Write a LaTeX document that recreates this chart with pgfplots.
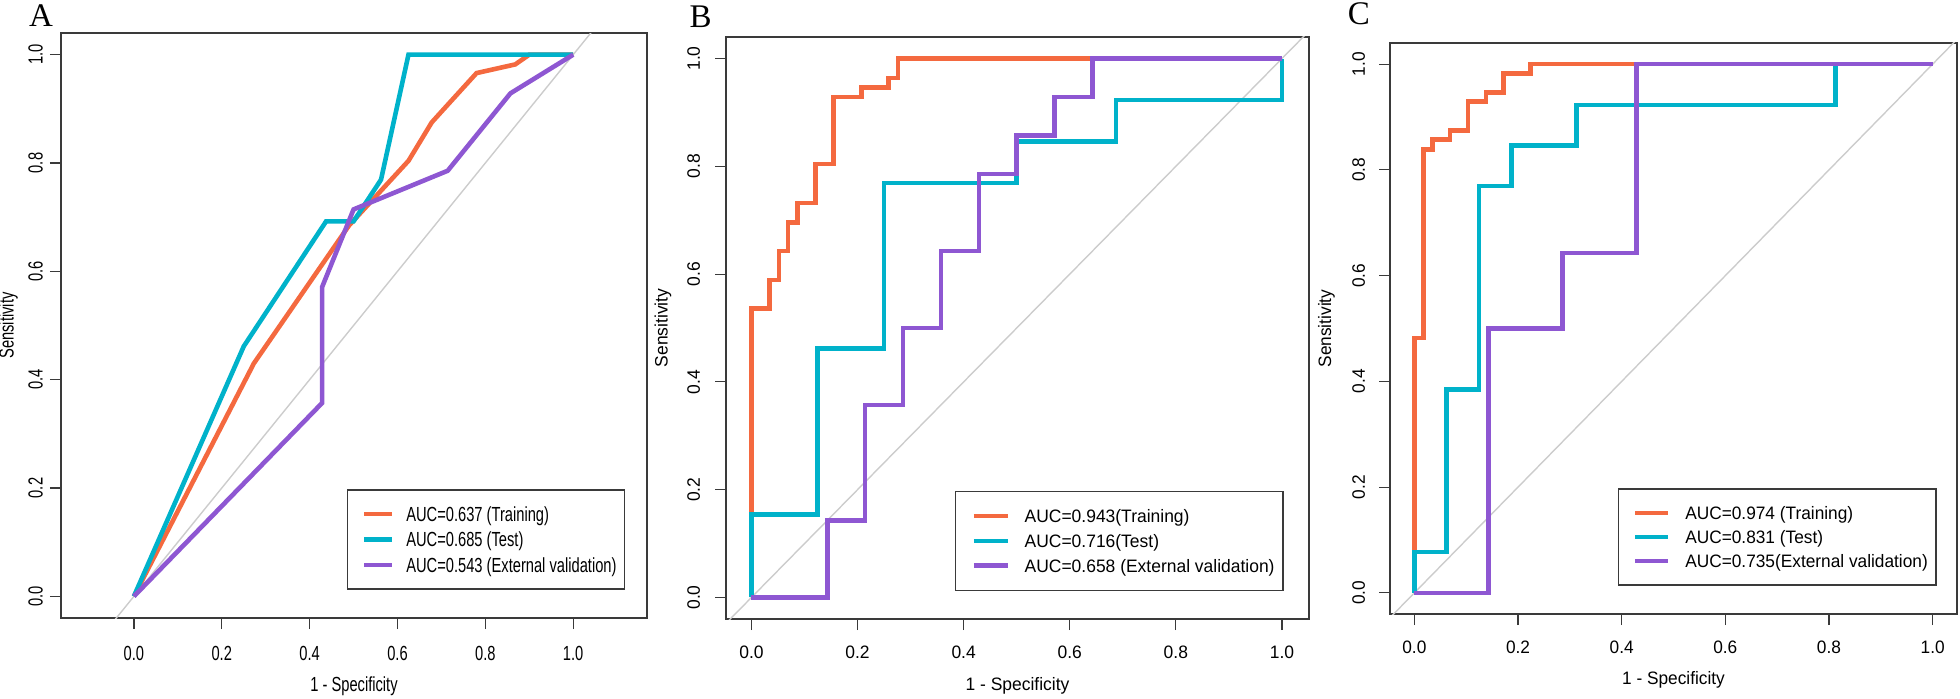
\documentclass[border=0pt]{standalone}
\usepackage{fontspec}
\setmainfont{Liberation Sans}
\newfontfamily\fontA[FakeStretch=0.72]{Liberation Sans}
\newfontfamily\fontB[FakeStretch=0.97]{Liberation Sans}
\newfontfamily\fontC[FakeStretch=0.96]{Liberation Sans}
\newfontfamily\panelfont{Liberation Serif}
\usepackage{pgfplots}
\pgfplotsset{compat=1.18}

\definecolor{trainc}{HTML}{F4693F}
\definecolor{testc}{HTML}{00B2CA}
\definecolor{extc}{HTML}{8E57D2}
\definecolor{diagc}{HTML}{CCCCCC}
\definecolor{framec}{HTML}{3A3A3A}

\newcommand{\fA}{\fontA\fontsize{10.2}{12}\selectfont}
\newcommand{\fB}{\fontB\fontsize{9}{11}\selectfont}
\newcommand{\fC}{\fontC\fontsize{9}{11}\selectfont}

\pgfplotsset{
  rocaxis/.style={
    scale only axis,
    anchor=south west,
    axis line style={framec, line width=1pt},
    xtick={0,0.2,0.4,0.6,0.8,1},
    ytick={0,0.2,0.4,0.6,0.8,1},
    tick pos=left,
    tick align=outside,
    major tick length=5.5pt,
    tick style={framec, line width=0.6pt},
    ymin=-0.04, ymax=1.04,
    /pgf/number format/fixed,
    /pgf/number format/fixed zerofill,
    /pgf/number format/precision=1,
    /pgf/number format/assume math mode=true,
    yticklabel style={rotate=90, anchor=south, inner sep=0pt},
    xticklabel style={anchor=north, inner sep=0pt},
    xlabel={1 - Specificity},
    ylabel={Sensitivity},
    legend cell align=left,
    legend style={anchor=north west, draw=framec, line width=0.75pt,
      fill=white, inner xsep=4pt, nodes={inner sep=0pt}},
  },
  train/.style={trainc, line width=2.3pt},
  test/.style={testc, line width=2.3pt},
  ext/.style={extc, line width=2.3pt},
  diag/.style={diagc, line width=0.7pt, forget plot},
}

\begin{document}
\begin{tikzpicture}
\path[use as bounding box] (0,0) rectangle (980pt,349pt);

% ---------------- A ----------------
\begin{axis}[rocaxis,
  at={(30.5pt,40pt)}, width=293pt, height=292.5pt,
  xmin=-0.166, xmax=1.168,
  tick label style={font=\fA}, label style={font=\fA},
  xticklabel shift=8.2pt, yticklabel shift=3.4pt,
  xlabel style={at={(axis description cs:0.5,-0.116)}, anchor=center},
  ylabel style={at={(axis description cs:-0.090,0.5)}, anchor=center},
  legend style={at={(0.488,0.2205)}, font=\fA, row sep=3.05pt, inner ysep=7.2pt,
    nodes={text height=8.5pt, text depth=1.2pt}},
  legend image code/.code={\path (-3pt,0pt); \draw[#1] (0pt,0pt) -- (14pt,0pt); \path (20pt,0pt);},
]
\addplot[diag] coordinates {(-0.3,-0.3) (1.3,1.3)};
\addplot[train] coordinates {(0,0) (0.273,0.43) (0.49,0.685) (0.625,0.804) (0.678,0.875) (0.716,0.909) (0.78,0.966) (0.868,0.982) (0.9,1) (1,1)};
\addlegendentry{AUC=0.637 (Training)}
\addplot[test] coordinates {(0,0) (0.25,0.4615) (0.4375,0.6923) (0.5,0.6923) (0.5625,0.7692) (0.625,1) (1,1)};
\addlegendentry{AUC=0.685 (Test)}
\addplot[ext] coordinates {(0,0) (0.4286,0.3571) (0.4286,0.5714) (0.5,0.7143) (0.7143,0.7857) (0.8571,0.9286) (1,1)};
\addlegendentry{AUC=0.543 (External validation)}
\end{axis}

% ---------------- B ----------------
\begin{axis}[rocaxis,
  at={(363pt,39.5pt)}, width=291.5pt, height=291pt,
  xmin=-0.048, xmax=1.051,
  tick label style={font=\fB}, label style={font=\fB},
  xticklabel shift=7.6pt, yticklabel shift=7.3pt,
  xlabel style={at={(axis description cs:0.5,-0.1146)}, anchor=center},
  ylabel style={at={(axis description cs:-0.108,0.5)}, anchor=center},
  legend style={at={(0.3925,0.2206)}, font=\fB, row sep=2.9pt, inner ysep=7.5pt,
    inner xsep=4.25pt, nodes={text height=8pt, text depth=1.56pt}},
  legend image code/.code={\path (-3.8pt,0pt); \draw[#1] (0pt,0pt) -- (16.8pt,0pt); \path (24.2pt,0pt);},
]
\addplot[diag] coordinates {(-0.3,-0.3) (1.3,1.3)};
\addplot[train] coordinates {(0,0) (0,0.536) (0.0345,0.536) (0.0345,0.589) (0.0517,0.589) (0.0517,0.643) (0.069,0.643) (0.069,0.696) (0.0862,0.696) (0.0862,0.732) (0.1207,0.732) (0.1207,0.804) (0.155,0.804) (0.155,0.929) (0.207,0.929) (0.207,0.946) (0.2586,0.946) (0.2586,0.964) (0.2759,0.964) (0.2759,1) (1,1)};
\addlegendentry{AUC=0.943(Training)}
\addplot[test] coordinates {(0,0) (0,0.1538) (0.125,0.1538) (0.125,0.4615) (0.25,0.4615) (0.25,0.7692) (0.5,0.7692) (0.5,0.8462) (0.6875,0.8462) (0.6875,0.9231) (1,0.9231) (1,1)};
\addlegendentry{AUC=0.716(Test)}
\addplot[ext] coordinates {(0,0) (0.1429,0) (0.1429,0.1429) (0.2143,0.1429) (0.2143,0.3571) (0.2857,0.3571) (0.2857,0.5) (0.3571,0.5) (0.3571,0.6429) (0.4286,0.6429) (0.4286,0.7857) (0.5,0.7857) (0.5,0.8571) (0.5714,0.8571) (0.5714,0.9286) (0.6429,0.9286) (0.6429,1) (1,1)};
\addlegendentry{AUC=0.658 (External validation)}
\end{axis}

% ---------------- C ----------------
\begin{axis}[rocaxis,
  at={(695pt,42pt)}, width=283.5pt, height=285.5pt,
  xmin=-0.047, xmax=1.047,
  tick label style={font=\fC}, label style={font=\fC},
  xticklabel shift=7.6pt, yticklabel shift=6.8pt,
  xlabel style={at={(axis description cs:0.5,-0.1154)}, anchor=center},
  ylabel style={at={(axis description cs:-0.112,0.5)}, anchor=center},
  legend style={at={(0.4018,0.22)}, font=\fC, row sep=2.45pt, inner ysep=7.2pt,
    inner xsep=4.2pt, nodes={text height=8pt, text depth=1.56pt}},
  legend image code/.code={\path (-3.1pt,0pt); \draw[#1] (0pt,0pt) -- (16.4pt,0pt); \path (23.75pt,0pt);},
]
\addplot[diag] coordinates {(-0.3,-0.3) (1.3,1.3)};
\addplot[train] coordinates {(0,0) (0,0.482) (0.0172,0.482) (0.0172,0.839) (0.0345,0.839) (0.0345,0.857) (0.069,0.857) (0.069,0.875) (0.1034,0.875) (0.1034,0.929) (0.138,0.929) (0.138,0.946) (0.1724,0.946) (0.1724,0.982) (0.2241,0.982) (0.2241,1) (1,1)};
\addlegendentry{AUC=0.974 (Training)}
\addplot[test] coordinates {(0,0) (0,0.0769) (0.0625,0.0769) (0.0625,0.3846) (0.125,0.3846) (0.125,0.7692) (0.1875,0.7692) (0.1875,0.8462) (0.3125,0.8462) (0.3125,0.9231) (0.8125,0.9231) (0.8125,1) (1,1)};
\addlegendentry{AUC=0.831 (Test)}
\addplot[ext] coordinates {(0,0) (0.1429,0) (0.1429,0.5) (0.2857,0.5) (0.2857,0.6429) (0.4286,0.6429) (0.4286,1) (1,1)};
\addlegendentry{AUC=0.735(External validation)}
\end{axis}

% panel letters
\node[font=\panelfont\fontsize{16.5}{18}\selectfont, anchor=base, inner sep=0pt] at (20.5pt,335.6pt) {A};
\node[font=\panelfont\fontsize{16.5}{18}\selectfont, anchor=base, inner sep=0pt] at (350.3pt,335.2pt) {B};
\node[font=\panelfont\fontsize{16.5}{18}\selectfont, anchor=base, inner sep=0pt] at (679.4pt,336.5pt) {C};
\end{tikzpicture}
\end{document}
